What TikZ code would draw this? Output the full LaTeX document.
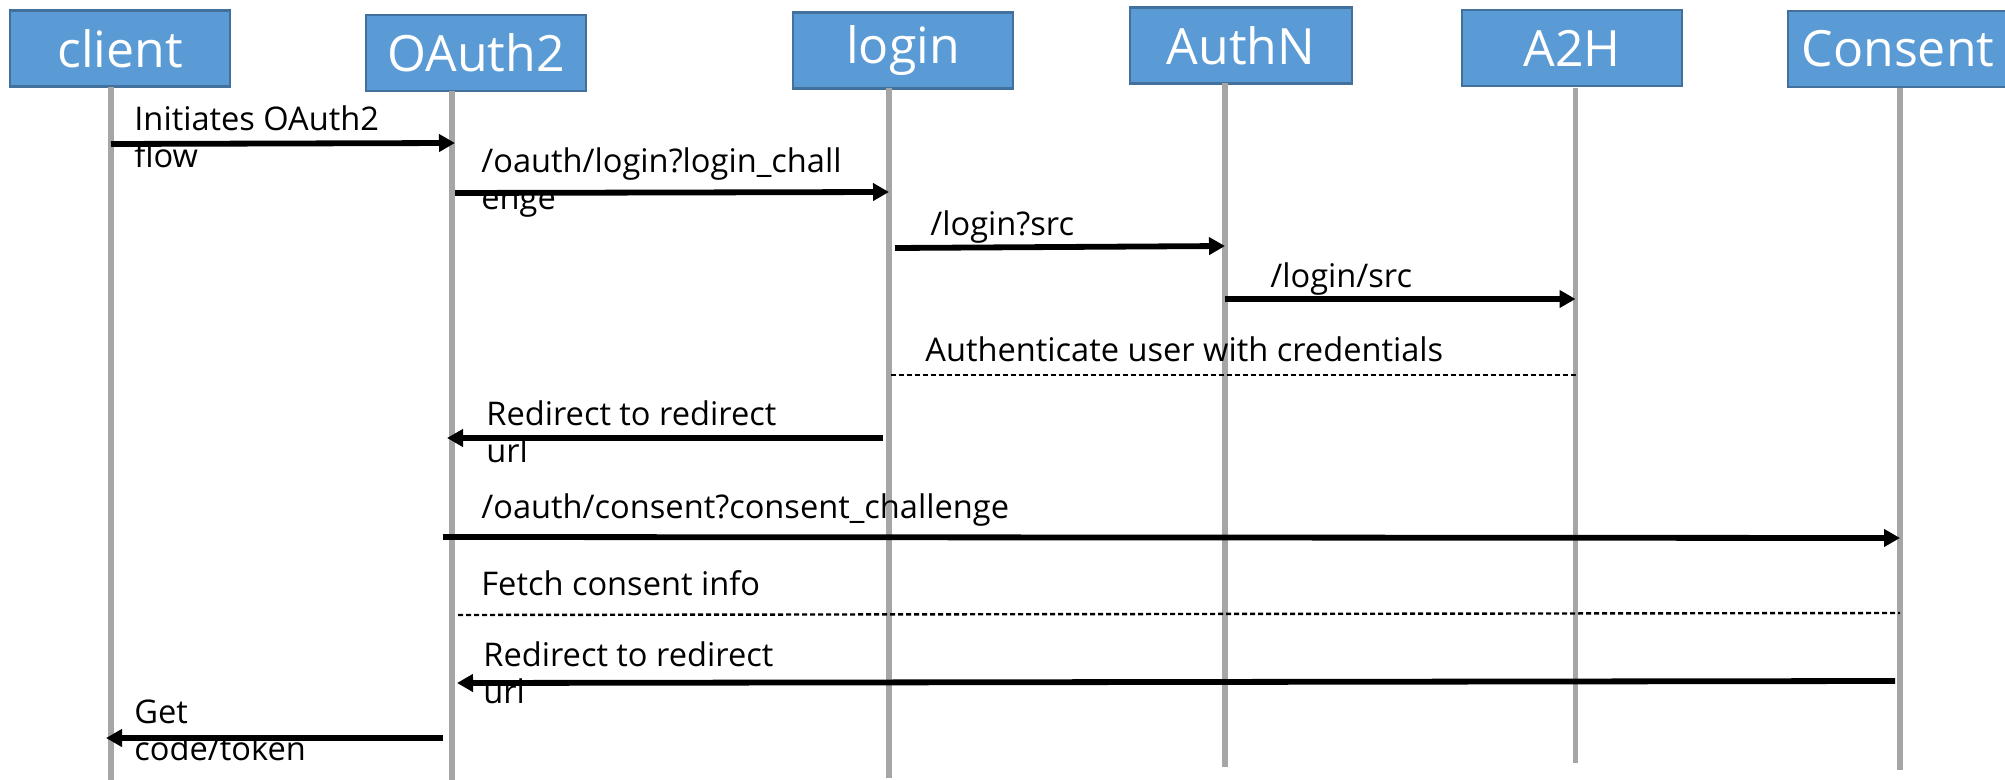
\documentclass[tikz,border=0pt]{standalone}
\usepackage{fontspec}
\setmainfont{Open Sans}
\usepackage{tikz}
\usetikzlibrary{arrows.meta,positioning}
\definecolor{actorfill}{HTML}{5B9BD5}
\definecolor{actorborder}{HTML}{41719C}
\definecolor{lifegray}{HTML}{A6A6A6}

\begin{document}
\begin{tikzpicture}[x=0.5pt,y=-0.5pt]
  \tikzstyle{actor} = [draw=actorborder,line width=1.2pt,fill=actorfill,text=white,minimum width=110pt,minimum height=38pt,inner sep=0pt,font=\fontsize{25}{30}\selectfont];
  \tikzstyle{life} = [draw=lifegray,line width=2.8pt];
  \tikzstyle{msg} = [line width=2.9pt,-{Triangle[length=8pt,width=8.5pt]}];
  \tikzstyle{reply} = [line width=1.2pt,dash pattern=on 2.5pt off 1.5pt];
  \tikzstyle{lbl} = [anchor=base west,inner sep=0pt,align=left,font=\fontsize{16.3}{18.5}\selectfont];
  \useasboundingbox (0,0) rectangle (2005,780);
  % participants
  \node[actor] (client) at (120,48.5) {client};
  \node[actor] (oauth) at (476,53) {OAuth2};
  \node[actor] (login) at (903,50.5) {login};
  \node[actor,minimum width=111pt] (authn) at (1241,45.5) {AuthN};
  \node[actor] (atoh) at (1572,48) {A2H};
  \node[actor] (consent) at (1898,49) {Consent};
  % lifelines
  \coordinate (clientL) at (111,87);   \coordinate (clientE) at (111,780);
  \coordinate (oauthL) at (452,91);    \coordinate (oauthE) at (452,780);
  \coordinate (loginL) at (889,88);    \coordinate (loginE) at (889,778);
  \coordinate (authnL) at (1225,83);   \coordinate (authnE) at (1225,767);
  \coordinate (atohL) at (1575.5,88);  \coordinate (atohE) at (1575.5,763);
  \coordinate (consentL) at (1900,88); \coordinate (consentE) at (1900,770);
  \draw[life] (clientL) -- (clientE);
  \draw[life,line width=3.4pt] (oauthL) -- (oauthE);
  \draw[life] (loginL) -- (loginE);
  \draw[life] (authnL) -- (authnE);
  \draw[life] (atohL) -- (atohE);
  \draw[life] (consentL) -- (consentE);
  % messages (two-line labels sit on the baseline of their last line)
  \draw[msg] (clientL |- 0,144) -- ([xshift=1.5pt]oauthL |- 0,143);
  \node[lbl] (m1) at (134,168) {Initiates OAuth2\\flow};
  \draw[msg] ([xshift=1.5pt]oauthL |- 0,193) -- (loginL |- 0,192);
  \node[lbl] (m2) at (481,210) {/oauth/login?login\_chall\\enge};
  \draw[msg] ([xshift=3pt]loginL |- 0,248) -- (authnL |- 0,246);
  \node[lbl] (m3) at (930,236) {/login?src};
  \draw[msg] (authnL |- 0,299) -- (atohL |- 0,299);
  \node[lbl] (m4) at (1270,288) {/login/src};
  \draw[reply] ([xshift=1pt]loginL |- 0,375) -- (atohL |- 0,375);
  \node[lbl] (m5) at (925,361) {Authenticate user with credentials};
  \draw[msg] ([xshift=-3pt]loginL |- 0,438) -- ([xshift=-2.5pt]oauthL |- 0,438);
  \node[lbl] (m6) at (486,462) {Redirect to redirect\\url};
  \draw[msg] ([xshift=-4.5pt]oauthL |- 0,537) -- (consentL |- 0,538);
  \node[lbl] (m7) at (481,518) {/oauth/consent?consent\_challenge};
  \draw[reply] ([xshift=3pt]oauthL |- 0,615) -- (consentL |- 0,613);
  \node[lbl] (m8) at (481,595) {Fetch consent info};
  \draw[msg] ([xshift=-2.5pt]consentL |- 0,681) -- ([xshift=2.5pt]oauthL |- 0,683);
  \node[lbl] (m9) at (483,703) {Redirect to redirect\\url};
  \draw[msg] ([xshift=-4.5pt]oauthL |- 0,738) -- ([xshift=-2.5pt]clientL |- 0,738);
  \node[lbl] (m10) at (134,760) {Get\\code/token};
\end{tikzpicture}
\end{document}
